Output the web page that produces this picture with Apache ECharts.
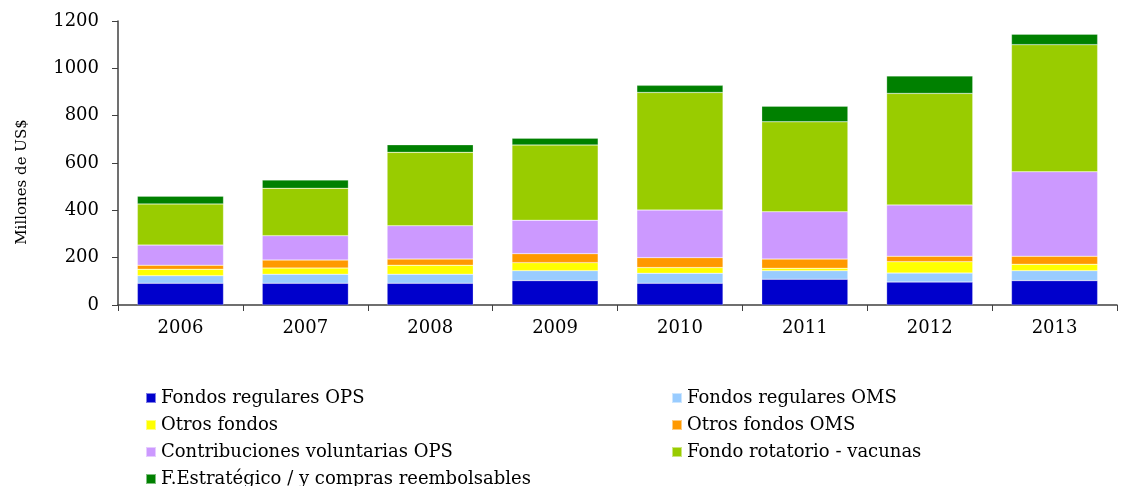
<!DOCTYPE html>
<html>
<head>
<meta charset="utf-8">
<script src="https://cdn.jsdelivr.net/npm/echarts@6/dist/echarts.min.js"></script>
<style>
  html, body { margin: 0; padding: 0; background: #fff; }
  #chart { width: 1127px; height: 486px; }
</style>
</head>
<body>
<div id="chart"></div>
<script>
var years = ['2006', '2007', '2008', '2009', '2010', '2011', '2012', '2013'];

var regularesOPS = [92, 92, 92, 103, 92, 109, 97, 103];
var regularesOMS = [32, 38, 38, 42, 42, 36, 38, 42];
var otrosFondos = [27, 26, 38, 34, 24, 10, 48, 27];
var otrosOMS = [17, 34, 26, 38, 42, 39, 23, 34];
var voluntariasOPS = [85, 103, 141, 141, 201, 200, 217, 357];
var rotatorio = [174, 200, 310, 318, 497, 380, 471, 537];
var estrategico = [33, 35, 32, 29, 30, 66, 74, 44];

var names = ['Fondos regulares OPS', 'Fondos regulares OMS', 'Otros fondos', 'Otros fondos OMS',
  'Contribuciones voluntarias OPS', 'Fondo rotatorio - vacunas', 'F.Estratégico / y compras reembolsables'];
var colors = ['#0000CC', '#99CCFF', '#FFFF00', '#FF9900', '#CC99FF', '#99CC00', '#008000'];
var values = [regularesOPS, regularesOMS, otrosFondos, otrosOMS, voluntariasOPS, rotatorio, estrategico];

var font = 'DejaVu Serif';

var series = names.map(function(n, i) {
  return {
    name: n,
    type: 'bar',
    stack: 'total',
    barWidth: '69%',
    data: values[i],
    itemStyle: { color: colors[i], borderColor: 'rgba(255,255,255,0.5)', borderWidth: 0.5 }
  };
});

var legendText = { fontFamily: font, fontSize: 18, color: '#000' };

var option = {
  animation: false,
  color: colors,
  grid: { left: 118, right: 10, top: 21, bottom: 181 },
  legend: [{
    data: [names[0], names[2], names[4], names[6]],
    orient: 'vertical',
    left: 140, top: 384, height: 130,
    itemWidth: 10, itemHeight: 10, itemGap: 9,
    icon: 'rect',
    textStyle: legendText
  }, {
    data: [names[1], names[3], names[5]],
    orient: 'vertical',
    left: 666, top: 384, height: 130,
    itemWidth: 10, itemHeight: 10, itemGap: 9,
    icon: 'rect',
    textStyle: legendText
  }],
  xAxis: {
    type: 'category',
    data: years,
    axisLine: { lineStyle: { color: '#404040', width: 1.5 } },
    axisTick: { show: true, length: 6, inside: false, lineStyle: { color: '#404040' } },
    axisLabel: { fontFamily: font, fontSize: 18, color: '#000', margin: 14 }
  },
  yAxis: {
    type: 'value',
    min: 0, max: 1200, interval: 200,
    name: 'Millones de US$',
    nameLocation: 'middle',
    nameGap: 88,
    nameRotate: 90,
    nameTextStyle: { fontFamily: font, fontSize: 15, color: '#000', padding: [0, 38, 0, 0] },
    axisLine: { show: true, lineStyle: { color: '#404040', width: 1.5 } },
    axisTick: { show: true, length: 6, lineStyle: { color: '#404040' } },
    axisLabel: { fontFamily: font, fontSize: 18, color: '#000', margin: 19, formatter: function(v) { return String(v); } },
    splitLine: { show: false }
  },
  series: series
};

var chart = echarts.init(document.getElementById('chart'));
chart.setOption(option);
</script>
</body>
</html>
